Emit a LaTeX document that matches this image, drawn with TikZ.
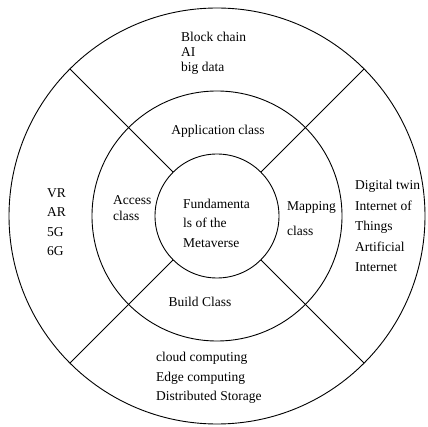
\documentclass[tikz,border=0pt]{standalone}
\usepackage{fontspec}
\setmainfont{Liberation Serif}
\usetikzlibrary{positioning}

\begin{document}
\begin{tikzpicture}[
            x=1pt, y=-1pt,
            ring/.style={draw, line width=0.9pt, circle, inner sep=0pt, outer sep=0pt},
            txt/.style={font=\fontsize{13.5}{#1}\selectfont, align=left, inner sep=0pt, anchor=west}
        ]
            \useasboundingbox (0,0) rectangle (428,427);

            % three rings
            \node[ring, minimum size=416pt] (outer) at (217,216) {};
            \node[ring, minimum size=250pt] (middle) at (217,216) {};
            \node[ring, minimum size=124pt] (core) at (217,216) {};

            % dividing lines
            \foreach \a in {45,135,225,315}
                \draw[line width=0.9pt] (outer.\a) -- (core.\a);

            % inner ring labels
            \node[txt=19.5] (fund) at (183,223) {Fundamenta\\ls of the\\Metaverse};
            \node[txt=16, anchor=center] (app) at (218,131) {Application class};
            \node[txt=16] (access) at (113,208) {Access\\class};
            \node[txt=25] (mapping) at (287,219) {Mapping\\class};
            \node[txt=16, anchor=center] (build) at (200,302) {Build Class};

            % outer ring labels
            \node[txt=15] (top) at (181,53) {Block chain\\AI\\big data};
            \node[txt=19.5] (left) at (47,222) {VR\\AR\\5G\\6G};
            \node[txt=20.5] (right) at (355,226) {Digital twin\\Internet of\\Things\\Artificial\\Internet};
            \node[txt=19.5] (bottom) at (156,378) {cloud computing\\Edge computing\\Distributed Storage};
        \end{tikzpicture}
\end{document}
